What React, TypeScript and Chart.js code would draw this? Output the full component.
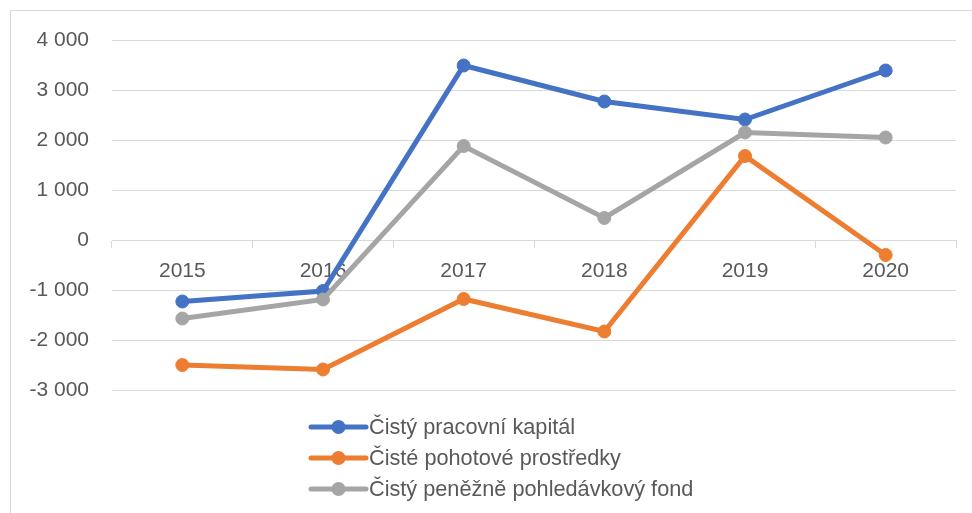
import React, { useEffect, useRef } from "react";
import { Chart, registerables } from "chart.js";

Chart.register(...registerables);

const years = ["2015", "2016", "2017", "2018", "2019", "2020"];
const cistyPracovniKapital = [-1230, -1020, 3490, 2770, 2410, 3390];
const cistePohotoveProstredky = [-2500, -2590, -1180, -1830, 1680, -300];
const cistyPenezneFond = [-1570, -1190, 1880, 440, 2150, 2050];
const seriesLabels = [
  "Čistý pracovní kapitál",
  "Čisté pohotové prostředky",
  "Čistý peněžně pohledávkový fond",
];
const seriesColors = ["#4472C4", "#ED7D31", "#A5A5A5"];
const yMin = -3000;
const yMax = 4000;
const yStep = 1000;

const FONT = "'Liberation Sans', Arial, sans-serif";
const TEXT_COLOR = "#595959";
const GRID_COLOR = "#d9d9d9";

function fmt(v: number): string {
  const s = Math.abs(Math.round(v)).toString().replace(/\B(?=(\d{3})+(?!\d))/g, " ");
  return v < 0 ? "-" + s : s;
}

const legendPlugin = {
  id: "customLegend",
  afterDraw(chart: any) {
    const ctx = chart.ctx;
    const x0 = 311;
    const x1 = 366;
    const startY = 427;
    const gap = 31;
    ctx.save();
    chart.data.datasets.forEach((ds: any, i: number) => {
      const y = startY + i * gap;
      ctx.strokeStyle = ds.borderColor;
      ctx.lineWidth = 5;
      ctx.lineCap = "round";
      ctx.beginPath();
      ctx.moveTo(x0, y);
      ctx.lineTo(x1, y);
      ctx.stroke();
      ctx.fillStyle = ds.borderColor;
      ctx.beginPath();
      ctx.arc((x0 + x1) / 2, y, 7, 0, Math.PI * 2);
      ctx.fill();
      ctx.fillStyle = TEXT_COLOR;
      ctx.font = `21.7px ${FONT}`;
      ctx.textBaseline = "middle";
      ctx.textAlign = "left";
      ctx.fillText(ds.label, x1 + 3, y + 1);
    });
    ctx.restore();
  },
};

export default function App() {
  const ref = useRef<HTMLCanvasElement | null>(null);

  useEffect(() => {
    if (!ref.current) return;
    const seriesData = [cistyPracovniKapital, cistePohotoveProstredky, cistyPenezneFond];
    const chart = new Chart(ref.current, {
      type: "line",
      data: {
        labels: years,
        datasets: seriesData.map((d, i) => ({
          label: seriesLabels[i],
          data: d,
          borderColor: seriesColors[i],
          backgroundColor: seriesColors[i],
          pointBackgroundColor: seriesColors[i],
          pointBorderColor: seriesColors[i],
          borderWidth: 5,
          pointRadius: 6.5,
          pointBorderWidth: 1,
          tension: 0,
          order: 3 - i,
        })),
      },
      options: {
        animation: false,
        responsive: false,
        devicePixelRatio: 1,
        layout: { padding: { left: 0, top: 40, right: 16, bottom: 123 } },
        plugins: {
          legend: { display: false },
          tooltip: { enabled: false },
        },
        scales: {
          x: {
            type: "category",
            position: { y: 0 } as any,
            offset: true,
            afterFit: (s: any) => {
              s.height = 0;
            },
            grid: {
              offset: true,
              drawOnChartArea: false,
              drawTicks: true,
              tickLength: 7,
              color: GRID_COLOR,
              lineWidth: 1,
            },
            border: { display: true, color: GRID_COLOR, width: 1 },
            ticks: {
              color: TEXT_COLOR,
              font: { family: FONT, size: 21 },
              padding: 12,
              maxRotation: 0,
            },
          },
          y: {
            type: "linear",
            position: "left",
            min: yMin,
            max: yMax,
            afterFit: (s: any) => {
              s.width = 112;
            },
            grid: {
              color: GRID_COLOR,
              lineWidth: 1,
              drawTicks: false,
            },
            border: { display: false },
            ticks: {
              stepSize: yStep,
              color: TEXT_COLOR,
              font: { family: FONT, size: 21 },
              padding: 23,
              callback: (v: any) => fmt(Number(v)),
            },
          },
        },
      },
      plugins: [legendPlugin],
    });
    return () => chart.destroy();
  }, []);

  return (
    <div
      style={{
        position: "fixed",
        left: 0,
        top: 0,
        width: 972,
        height: 513,
        background: "#ffffff",
        overflow: "hidden",
      }}
    >
      <div
        style={{
          position: "absolute",
          left: 10,
          top: 10,
          width: 1000,
          height: 1000,
          border: "1.5px solid #d9d9d9",
          boxSizing: "border-box",
        }}
      />
      <canvas
        ref={ref}
        width={972}
        height={513}
        style={{ position: "absolute", left: 0, top: 0, width: 972, height: 513 }}
      />
    </div>
  );
}
